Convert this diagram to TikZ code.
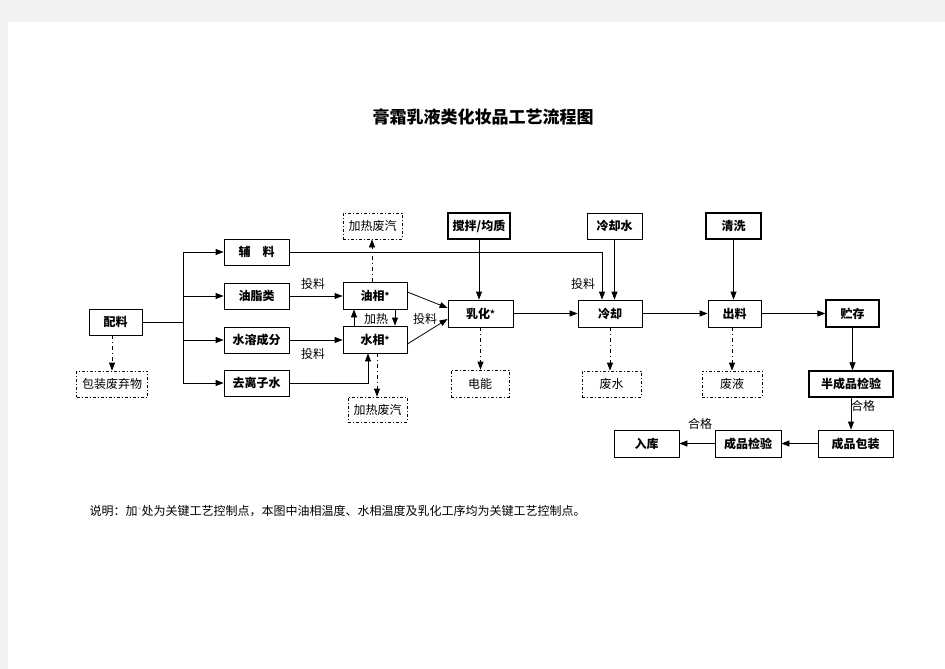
\documentclass[tikz,border=0pt]{standalone}
\usepackage{fontspec}
\setmainfont{Noto Sans CJK SC}
\usetikzlibrary{arrows.meta}

\definecolor{pagegray}{HTML}{F2F2F2}
\tikzset{
  box/.style={draw, line width=0.8pt, minimum height=26pt, inner sep=1pt,
    font=\fontsize{12}{14}\selectfont\bfseries},
  thickbox/.style={box, line width=1.4pt},
  wastebox/.style={draw, line width=0.8pt, dash pattern=on 3pt off 2pt on 1pt off 2pt,
    minimum height=26pt, inner sep=1pt, font=\fontsize{12}{14}\selectfont},
  flow/.style={line width=0.8pt, -{Triangle[length=8pt,width=6pt]}},
  waste/.style={flow, dash pattern=on 4pt off 3pt on 1pt off 3pt},
  lbl/.style={font=\fontsize{12}{14}\selectfont},
}
\newcommand{\ctrlmark}{\raisebox{1pt}{\fontsize{9}{10}\selectfont *}}

\begin{document}
\begin{tikzpicture}[x=1pt, y=-1pt]
    % page
    \fill[pagegray] (0,0) rectangle (945,669);
    \fill[white] (8,22) rectangle (945,669);
    \useasboundingbox (0,0) rectangle (945,669);

    \node[font=\fontsize{17}{20}\selectfont\bfseries] (title) at (483,117) {膏霜乳液类化妆品工艺流程图};

    % raw materials
    \node[box, minimum width=53pt] (peiliao) at (115.5,322) {配料};
    \node[wastebox, minimum width=71pt] (baozhuang) at (112,384) {包装废弃物};
    \node[box, minimum width=65pt] (fuliao) at (256.5,252) {辅\hspace{1em}料};
    \node[box, minimum width=65pt] (youzhi) at (256.5,296) {油脂类};
    \node[box, minimum width=65pt] (shuirong) at (256.5,340) {水溶成分};
    \node[box, minimum width=65pt] (quzishui) at (256.5,383) {去离子水};

    % phases
    \node[box, minimum width=64pt, minimum height=27pt] (youxiang) at (375,295.5) {油相\ctrlmark};
    \node[box, minimum width=64pt, minimum height=27pt] (shuixiang) at (375,339.5) {水相\ctrlmark};
    \node[wastebox, minimum width=59pt] (feiqi1) at (372.5,226) {加热废汽};
    \node[wastebox, minimum width=59pt, minimum height=25pt] (feiqi2) at (377.5,409.5) {加热废汽};

    % main line
    \node[box, minimum width=65pt, minimum height=27pt] (ruhua) at (480.5,313.5) {乳化\ctrlmark};
    \node[thickbox, minimum width=62pt] (jiaoban) at (479,226) {搅拌/均质};
    \node[wastebox, minimum width=58pt, minimum height=27pt] (dianneng) at (480,383.5) {电能};
    \node[box, minimum width=64pt, minimum height=27pt] (lengque) at (610,313.5) {冷却};
    \node[box, minimum width=55pt] (lengqueshui) at (614.5,226) {冷却水};
    \node[wastebox, minimum width=59pt] (feishui) at (611.5,384) {废水};
    \node[box, minimum width=53pt, minimum height=27pt] (chuliao) at (734.5,313.5) {出料};
    \node[thickbox, minimum width=55pt] (qingxi) at (733.5,226) {清洗};
    \node[wastebox, minimum width=60pt] (feiye) at (732,384) {废液};
    \node[thickbox, minimum width=53pt, minimum height=27pt] (zhucun) at (852.5,313.5) {贮存};
    \node[thickbox, minimum width=84pt] (banjianyan) at (851,384) {半成品检验};
    \node[box, minimum width=75pt, minimum height=27pt] (baozhuang2) at (855.5,443.5) {成品包装};
    \node[box, minimum width=66pt, minimum height=27pt] (jianyan) at (748,443.5) {成品检验};
    \node[box, minimum width=65pt, minimum height=27pt] (ruku) at (646.5,443.5) {入库};

    % labels
    \node[lbl] (tl1) at (313,284) {投料};
    \node[lbl] (tl2) at (313,354) {投料};
    \node[lbl] (jr) at (376,319) {加热};
    \node[lbl] (tl3) at (425,319) {投料};
    \node[lbl] (tl4) at (583,284) {投料};
    \node[lbl] (hg1) at (863,406) {合格};
    \node[lbl] (hg2) at (700,424) {合格};

    % fork
    \coordinate (fork) at (183,322);
    \draw[line width=0.8pt] (peiliao.east) -- (fork);
    \draw[line width=0.8pt] (fork |- fuliao) -- (fork |- quzishui);
    \draw[flow] (fork |- fuliao) -- (fuliao.west);
    \draw[flow] (fork |- youzhi) -- (youzhi.west);
    \draw[flow] (fork |- shuirong) -- (shuirong.west);
    \draw[flow] (fork |- quzishui) -- (quzishui.west);
    \draw[waste] ([xshift=-3.5pt]peiliao.south) -- ([xshift=-3.5pt]peiliao.south |- baozhuang.north);

    % into the phases
    \draw[flow] (youzhi.east) -- (youxiang.west |- youzhi);
    \draw[flow] (shuirong.east) -- (shuixiang.west |- shuirong);
    \draw[flow] (quzishui.east) -| ([xshift=-7pt]shuixiang.south);
    \draw[flow] ([xshift=-21pt]shuixiang.north) -- ([xshift=-21pt]youxiang.south);
    \draw[flow] ([xshift=20pt]youxiang.south) -- ([xshift=20pt]shuixiang.north);
    \draw[waste] ([xshift=-3pt]youxiang.north) -- ([xshift=-3pt]youxiang.north |- feiqi1.south);
    \draw[waste] ([xshift=2pt]shuixiang.south) -- ([xshift=2pt]shuixiang.south |- feiqi2.north);

    % emulsify
    \draw[flow] ([yshift=3.5pt]youxiang.east) -- ([yshift=5.5pt]ruhua.west);
    \draw[flow] ([yshift=-4.5pt]shuixiang.east) -- ([yshift=-5.5pt]ruhua.west);
    \draw[flow] (jiaoban.south) -- (jiaoban.south |- ruhua.north);
    \draw[waste] (ruhua.south) -- (ruhua.south |- dianneng.north);
    \draw[flow] (ruhua.east) -- (lengque.west);

    % cooling
    \draw[flow] (fuliao.east) -| ([xshift=-8pt]lengque.north);
    \draw[flow] (lengqueshui.south) -- (lengqueshui.south |- lengque.north);
    \draw[waste] (lengque.south) -- (lengque.south |- feishui.north);
    \draw[flow] (lengque.east) -- (chuliao.west);

    % discharge and storage
    \draw[flow] (qingxi.south) -- (qingxi.south |- chuliao.north);
    \draw[waste] ([xshift=-2.5pt]chuliao.south) -- ([xshift=-2.5pt]chuliao.south |- feiye.north);
    \draw[flow] (chuliao.east) -- (zhucun.west);
    \draw[flow] (zhucun.south) -- (zhucun.south |- banjianyan.north);
    \draw[flow] (banjianyan.south) -- (banjianyan.south |- baozhuang2.north);
    \draw[flow] (baozhuang2.west) -- (jianyan.east);
    \draw[flow] (jianyan.west) -- (ruku.east);

    \node[anchor=west, font=\fontsize{12}{14}\selectfont] (note) at (86,511)
      {说明：加{\color{gray!50}\ctrlmark}处为关键工艺控制点，本图中油相温度、水相温度及乳化工序均为关键工艺控制点。};
\end{tikzpicture}
\end{document}
